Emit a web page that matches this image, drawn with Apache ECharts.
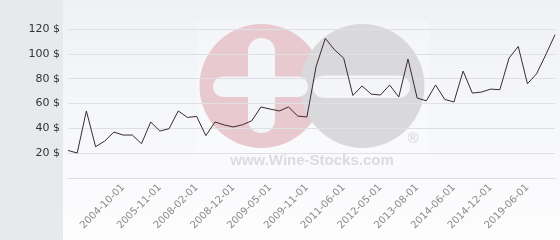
<!DOCTYPE html>
<html>
<head>
<meta charset="utf-8">
<script src="https://cdn.jsdelivr.net/npm/echarts@6/dist/echarts.min.js"></script>
<style>html,body{margin:0;padding:0;background:#fff}#c{width:560px;height:240px}</style>
</head>
<body>
<div id="c"></div>
<script>
const categories = [
  '2003-05-01','2003-09-01','2003-12-01','2004-02-01','2004-05-01','2004-07-01',
  '2004-10-01','2005-01-01','2005-04-01','2005-08-01',
  '2005-11-01','2006-04-01','2006-11-01','2007-06-01',
  '2008-02-01','2008-04-01','2008-07-01','2008-10-01',
  '2008-12-01','2009-01-01','2009-02-01','2009-04-01',
  '2009-05-01','2009-07-01','2009-08-01','2009-10-01',
  '2009-11-01','2010-03-01','2010-08-01','2011-01-01',
  '2011-06-01','2011-09-01','2011-12-01','2012-03-01',
  '2012-05-01','2012-09-01','2013-01-01','2013-05-01',
  '2013-08-01','2013-11-01','2014-02-01','2014-04-01',
  '2014-06-01','2014-08-01','2014-09-01','2014-11-01',
  '2014-12-01','2015-11-01','2017-01-01','2018-05-01',
  '2019-06-01','2020-05-01','2021-06-01','2022-07-01'
];
const prices = [
  22.2, 20.1, 54.0, 25.2, 29.8, 37.0, 34.6, 34.6, 27.6, 45.1,
  37.8, 39.7, 54.0, 48.8, 49.6, 34.1, 45.1, 42.7, 41.1, 42.9,
  46.1, 57.2, 55.5, 54.0, 57.2, 49.9, 49.1, 89.8, 112.4, 103.3,
  96.6, 66.5, 74.1, 67.6, 66.8, 74.9, 65.2, 95.8, 64.4, 62.2,
  74.9, 63.3, 61.2, 86.1, 68.4, 69.2, 71.6, 71.1, 96.6, 105.9,
  75.9, 84.0, 99.3, 115.4
];
const yTicks = [0, 20, 40, 60, 80, 100, 120];

const chart = echarts.init(document.getElementById('c'), null, {renderer: 'canvas'});
chart.setOption({
  animation: false,
  backgroundColor: '#ffffff',
  graphic: [
    {type: 'rect', z: -20, shape: {x: 0, y: 0, width: 63, height: 240}, style: {fill: '#e6eaed'}},
    {type: 'rect', z: -20, shape: {x: 63, y: 0, width: 497, height: 240},
      style: {fill: new echarts.graphic.LinearGradient(0, 0, 0, 1, [
        {offset: 0, color: '#eff1f5'}, {offset: 1, color: '#fdfdfe'}])}},
    {type: 'rect', z: -19, shape: {x: 197, y: 21, width: 232, height: 152}, style: {fill: 'rgba(255,255,255,0.28)'}},
    {type: 'circle', z: -18, shape: {cx: 261.5, cy: 86, r: 62}, style: {fill: '#e8c9d0'}},
    {type: 'circle', z: -17, shape: {cx: 362.5, cy: 86, r: 62}, style: {fill: '#d9d9db'}},
    {type: 'rect', z: -16, shape: {x: 248, y: 38, width: 27, height: 95, r: 13}, style: {fill: '#f4f5f8'}},
    {type: 'rect', z: -16, shape: {x: 213, y: 76.5, width: 95, height: 20.5, r: 10}, style: {fill: '#f4f5f8'}},
    {type: 'rect', z: -16, shape: {x: 313, y: 75.5, width: 97, height: 22.5, r: 11}, style: {fill: '#f4f5f8'}},
    {type: 'text', z: -16, style: {x: 413, y: 139, text: '®', fill: '#d3d3d5', font: '15px "Liberation Sans", Arial, sans-serif', align: 'center', verticalAlign: 'middle'}},
    {type: 'text', z: -16, style: {x: 312, y: 161, text: 'www.Wine-Stocks.com', fill: '#dcdcde', font: 'bold 15px "Liberation Sans", Arial, sans-serif', align: 'center', verticalAlign: 'middle'}}
  ],
  grid: {left: 68, right: 5, top: 29, bottom: 62, outerBoundsMode: 'none', containLabel: false},
  xAxis: {
    type: 'category',
    data: categories,
    boundaryGap: false,
    axisLine: {show: true, lineStyle: {color: '#dcdcdc', width: 1}},
    axisTick: {show: false},
    splitLine: {show: false},
    axisLabel: {
      rotate: 45,
      margin: 8,
      color: '#8a8a8a',
      fontSize: 10,
      fontFamily: '"DejaVu Sans", sans-serif',
      interval: function (i) { return i % 4 === 2 && i >= 6; }
    }
  },
  yAxis: {
    type: 'value',
    min: yTicks[0],
    max: yTicks[yTicks.length - 1],
    interval: 20,
    axisLine: {show: false},
    axisTick: {show: false},
    splitLine: {show: true, lineStyle: {color: '#dfe0e3', width: 1}},
    axisLabel: {
      margin: 8,
      color: '#333333',
      fontSize: 11,
      fontFamily: '"DejaVu Sans", sans-serif',
      formatter: function (v) { return v === 0 ? '' : v + ' $'; }
    }
  },
  series: [{
    type: 'line',
    data: prices,
    symbol: 'none',
    lineStyle: {color: '#3a2a32', width: 1},
    z: 5
  }]
});
</script>
</body>
</html>
